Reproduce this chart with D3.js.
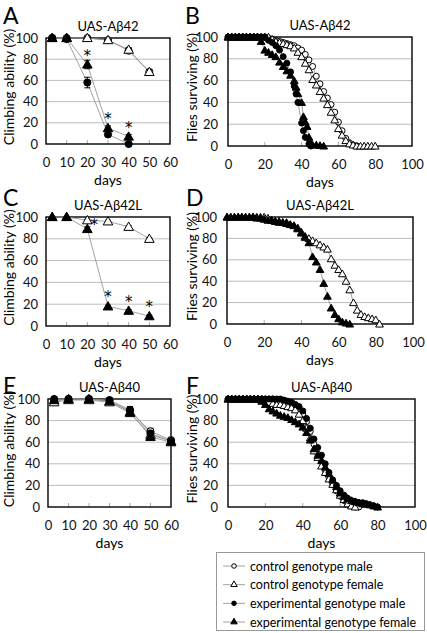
<!DOCTYPE html>
<html><head><meta charset="utf-8">
<script src="https://cdn.jsdelivr.net/npm/d3@7"></script>
<style>body{margin:0;background:#fff}svg{display:block;font-family:Lato,"Open Sans",sans-serif}</style>
</head><body><svg id="c" width="427" height="633"></svg>
<script>
// ---------- DATA ----------
const climbDays = [3, 10, 20, 30, 40, 50, 60];
const climbTicks = [0, 10, 20, 30, 40, 50, 60];
const survTicks = [0, 20, 40, 60, 80, 100];
const yTicks = [0, 20, 40, 60, 80, 100];
const legendLabels = ["control genotype male", "control genotype female", "experimental genotype male", "experimental genotype female"];
const titles = ["UAS-A\u03b242", "UAS-A\u03b242", "UAS-A\u03b242L", "UAS-A\u03b242L", "UAS-A\u03b240", "UAS-A\u03b240"];

// Panel A (climbing)
const A_ctrlMale = [100, 100, 100, 98, 88, 68];
const A_ctrlFemale = [100, 100, 100, 98, 89, 68];
const A_expMale = [100, 99, 58, 9, 0];
const A_expFemale = [100, 100, 75, 15, 7];
const A_ctrlErr = [0, 1, 1, 1, 2, 2];
const A_expMaleErr = [0, 1, 5, 1, 0];
const A_expFemaleErr = [0, 0, 4, 2, 2];
const A_stars = [20, 30, 40];

// Panel C (climbing)
const C_ctrlFemale = [100, 100, 97, 96, 91, 80];
const C_expFemale = [100, 100, 89, 18, 14, 9];
const C_ctrlErr = [0, 0, 1, 1, 1, 1];
const C_expErr = [0, 0, 2, 1, 1, 1];
const C_stars = [20, 30, 40, 50];

// Panel E (climbing)
const E_ctrlMale = [98, 100, 100, 98, 89, 70, 62];
const E_ctrlFemale = [97, 99, 99, 97, 87, 67, 61];
const E_expMale = [100, 100, 100, 99, 90, 68, 61];
const E_expFemale = [99, 100, 100, 98, 88, 65, 60];
const E_err = [2, 1, 1, 2, 3, 3, 2];

// Panel B (survival) [day, % surviving]
const B_ctrlMale = [[0,100],[2,100],[4,100],[6,100],[8,100],[10,100],[12,100],[14,100],[16,100],[18,100],[20,100],[22,99],[24,98],[26,97],[28,96],[30,95],[32,94],[34,93],[36,92],[38,90],[40,88],[42,84],[44,79],[46,73],[48,64],[50,57],[52,50],[54,44],[56,38],[58,31],[60,22],[62,14],[64,7],[66,3],[68,1],[70,0]];
const B_ctrlFemale = [[0,100],[2,100],[4,100],[6,100],[8,100],[10,100],[12,100],[14,100],[16,100],[18,100],[20,100],[22,100],[24,98],[26,96],[28,95],[30,94],[32,93],[34,92],[36,90],[38,86],[40,82],[42,76],[44,70],[46,61],[48,56],[50,50],[52,44],[54,38],[56,31],[58,24],[60,16],[62,10],[64,5],[66,2],[68,1],[70,0],[72,0],[74,0],[76,0],[78,0],[80,0]];
const B_expMale = [[0,100],[2,100],[4,100],[6,100],[8,100],[10,100],[12,100],[14,100],[16,100],[18,100],[20,100],[22,97],[24,95],[26,92],[28,88],[30,82],[32,76],[34,68],[36,55],[37,48],[38,40],[40,21],[41,14],[42,8],[44,2],[45,0]];
const B_expFemale = [[0,100],[2,100],[4,100],[6,100],[8,100],[10,100],[12,100],[14,100],[16,100],[18,96],[20,88],[22,86],[24,84],[26,82],[28,77],[30,73],[32,69],[34,65],[36,60],[37,54],[38,48],[40,40],[41,27],[42,22],[43,18],[44,8],[45,2],[46,1],[48,1],[50,0.5],[52,0]];

// Panel D (survival)
const D_ctrlFemale = [[0,100],[2,100],[4,100],[6,100],[8,100],[10,100],[12,100],[14,100],[16,100],[18,100],[20,100],[22,99],[24,97],[26,96],[28,95],[30,95],[32,94],[34,93],[36,92],[38,90],[40,86],[42,82],[44,80],[46,78],[48,76],[50,74],[52,72],[54,70],[56,61],[58,55],[60,51],[62,47],[64,40],[66,32],[68,20],[70,13],[72,9],[74,7],[76,6],[78,5],[80,4],[82,0]];
const D_expFemale = [[0,100],[2,100],[4,100],[6,100],[8,100],[10,100],[12,100],[14,100],[16,99],[18,99],[20,98],[22,97],[24,97],[26,96],[28,96],[30,95],[32,95],[34,93],[36,92],[38,89],[40,85],[42,81],[44,76],[46,63],[48,58],[50,51],[52,38],[54,26],[56,15],[58,9],[60,5],[62,2],[64,1],[66,0]];

// Panel F (survival)
const F_ctrlMale = [[0,100],[2,100],[4,100],[6,100],[8,100],[10,100],[12,100],[14,100],[16,100],[18,100],[20,100],[22,100],[24,100],[26,99],[28,98],[30,97],[32,96],[34,95],[36,94],[38,91],[40,86],[42,79],[44,70],[46,58],[48,49],[50,42],[52,34],[54,27],[56,21],[58,15],[60,10],[62,6],[64,3],[66,1],[68,0],[70,0]];
const F_ctrlFemale = [[0,100],[2,100],[4,100],[6,100],[8,100],[10,100],[12,100],[14,100],[16,100],[18,100],[20,98],[22,97],[24,96],[26,95],[28,95],[30,94],[32,93],[34,92],[36,90],[38,86],[40,80],[42,73],[44,64],[46,52],[48,46],[50,38],[52,32],[54,26],[56,21],[58,16],[60,11],[62,7],[64,3],[66,1],[68,0]];
const F_expMale = [[0,100],[2,100],[4,100],[6,100],[8,100],[10,100],[12,100],[14,100],[16,100],[18,100],[20,100],[22,100],[24,100],[26,100],[28,100],[30,99],[32,98],[34,97],[36,95],[38,93],[40,89],[42,82],[44,73],[46,63],[48,55],[50,48],[52,40],[54,32],[56,25],[58,20],[60,15],[62,11],[64,8],[66,6],[68,5],[70,4],[72,4],[74,3],[76,2],[78,1],[80,0]];
const F_expFemale = [[0,100],[2,100],[4,100],[6,100],[8,100],[10,100],[12,100],[14,100],[16,100],[18,98],[20,95],[22,91],[24,89],[26,87],[28,85],[30,84],[32,83],[34,81],[36,79],[38,77],[40,74],[42,69],[44,62],[46,54],[48,48],[50,43],[52,37],[54,31],[56,25],[58,19],[60,13],[62,10],[64,8],[66,6],[68,5],[70,4],[72,3],[74,3],[76,2],[78,1],[80,0]];

// ---------- DRAWING ----------
const svg = d3.select("#c");
const FONT = 'Lato,"Open Sans",sans-serif';
const lineColor = "#8a8a8a";

function marker(g, type, x, y, big) {
  const isTri = type.indexOf("Female") >= 0;
  const filled = type.indexOf("exp") === 0;
  const size = isTri ? (big ? 40 : 26) : (big ? 40 : 28);
  g.append("path")
    .attr("d", d3.symbol().type(isTri ? d3.symbolTriangle : d3.symbolCircle).size(size)())
    .attr("transform", `translate(${x},${y + (isTri ? 0.8 : 0)})`)
    .attr("fill", filled ? "#000" : "#fff")
    .attr("stroke", "#000").attr("stroke-width", 1);
}

function panel(cfg) {
  const g = svg.append("g");
  const x = d3.scaleLinear().domain(cfg.xDomain).range([cfg.L, cfg.R]);
  const y = d3.scaleLinear().domain([0, 100]).range([cfg.B, cfg.T]);
  g.selectAll(".grid").data(yTicks.filter(v => v > 0 && v < 100)).join("line")
    .attr("x1", cfg.L).attr("x2", cfg.R).attr("y1", d => y(d)).attr("y2", d => y(d))
    .attr("stroke", "#bdbdbd").attr("stroke-width", 1);
  g.selectAll(".xt").data(cfg.xTicks.slice(1, -1)).join("line")
    .attr("x1", d => x(d)).attr("x2", d => x(d)).attr("y1", cfg.B).attr("y2", cfg.B - 4)
    .attr("stroke", "#aaa").attr("stroke-width", 1);
  const xa = g.append("g").attr("transform", `translate(0,${cfg.B})`)
    .call(d3.axisBottom(x).tickValues(cfg.xTicks).tickSize(0).tickPadding(14));
  xa.select(".domain").remove();
  xa.selectAll("text").attr("font-size", 13).attr("font-family", FONT).attr("fill", "#111");
  const ya = g.append("g").attr("transform", `translate(${cfg.L},0)`)
    .call(d3.axisLeft(y).tickValues(yTicks).tickSize(0).tickPadding(cfg.yPad));
  ya.select(".domain").remove();
  ya.selectAll("text").attr("font-size", 13).attr("font-family", FONT).attr("fill", "#111");
  g.append("rect").attr("x", cfg.L).attr("y", cfg.T).attr("width", cfg.R - cfg.L).attr("height", cfg.B - cfg.T)
    .attr("fill", "none").attr("stroke", "#000").attr("stroke-width", 1.4);
  g.append("text").attr("x", (cfg.L + cfg.R) / 2).attr("y", cfg.B + 41).attr("text-anchor", "middle")
    .attr("font-size", 14).attr("font-family", FONT).text("days");
  g.append("text").attr("x", (cfg.L + cfg.R) / 2).attr("y", cfg.T - 7).attr("text-anchor", "middle")
    .attr("font-size", 13).attr("font-family", FONT).text(cfg.title);
  g.append("text").attr("transform", `translate(${cfg.ylx},${(cfg.T + cfg.B) / 2 - 4}) rotate(-90)`)
    .attr("text-anchor", "middle").attr("font-size", 14).attr("font-family", FONT).text(cfg.ylabel);
  g.append("text").attr("x", cfg.lx).attr("y", cfg.ly).attr("font-size", 23).attr("font-family", FONT).text(cfg.letter);

  const line = d3.line().x(d => x(d[0])).y(d => y(d[1]));
  cfg.series.forEach(s => {
    g.append("path").attr("d", line(s.data)).attr("fill", "none").attr("stroke", lineColor).attr("stroke-width", 0.8);
  });
  cfg.series.forEach(s => {
    if (s.err) {
      s.data.forEach((d, i) => {
        const e = s.err[i];
        if (e > 0) {
          const cx = x(d[0]);
          g.append("line").attr("x1", cx).attr("x2", cx).attr("y1", y(d[1] - e)).attr("y2", y(d[1] + e)).attr("stroke", "#000");
          [d[1] - e, d[1] + e].forEach(v => g.append("line").attr("x1", cx - 3).attr("x2", cx + 3).attr("y1", y(v)).attr("y2", y(v)).attr("stroke", "#000"));
        }
      });
    }
    s.data.forEach(d => marker(g, s.type, x(d[0]), y(d[1]), cfg.big));
  });
  if (cfg.stars) {
    const s = cfg.series.find(t => t.type === "expFemale");
    cfg.stars.forEach(day => {
      const p = s.data.find(d => d[0] === day);
      const dx = cfg.starDx ? cfg.starDx(day) : 0;
      const dy = cfg.starDy ? cfg.starDy(day) : -4;
      g.append("text").attr("x", x(day) + dx).attr("y", y(p[1]) + dy).attr("text-anchor", "middle")
        .attr("font-size", 15).attr("font-family", '"DejaVu Sans",sans-serif').attr("fill", "#000").text("*");
    });
  }
}

const zipDays = arr => arr.map((v, i) => [climbDays[i], v]);

panel({letter: "A", lx: 3, ly: 24, title: titles[0], L: 46, R: 170, T: 38, B: 144, xDomain: [0, 60], xTicks: climbTicks,
  ylabel: "Climbing ability (%)", ylx: 14, yPad: 8, big: true, stars: A_stars,
  series: [
    {type: "ctrlMale", data: zipDays(A_ctrlMale), err: A_ctrlErr},
    {type: "ctrlFemale", data: zipDays(A_ctrlFemale), err: A_ctrlErr},
    {type: "expMale", data: zipDays(A_expMale), err: A_expMaleErr},
    {type: "expFemale", data: zipDays(A_expFemale), err: A_expFemaleErr}]});

panel({letter: "B", lx: 185, ly: 24, title: titles[1], L: 228, R: 412, T: 37, B: 146, xDomain: [0, 100], xTicks: survTicks,
  ylabel: "Flies surviving (%)", ylx: 197, yPad: 10,
  series: [
    {type: "ctrlMale", data: B_ctrlMale}, {type: "ctrlFemale", data: B_ctrlFemale},
    {type: "expMale", data: B_expMale}, {type: "expFemale", data: B_expFemale}]});

panel({letter: "C", lx: 3, ly: 206, title: titles[2], L: 46, R: 170, T: 217, B: 326, xDomain: [0, 60], xTicks: climbTicks,
  ylabel: "Climbing ability (%)", ylx: 14, yPad: 8, big: true, stars: C_stars,
  starDx: d => d === 20 ? 7 : 0, starDy: d => d === 20 ? 1 : -4,
  series: [
    {type: "ctrlFemale", data: zipDays(C_ctrlFemale), err: C_ctrlErr},
    {type: "expFemale", data: zipDays(C_expFemale), err: C_expErr}]});

panel({letter: "D", lx: 186, ly: 206, title: titles[3], L: 227, R: 413, T: 217, B: 324, xDomain: [0, 100], xTicks: survTicks,
  ylabel: "Flies surviving (%)", ylx: 197, yPad: 10,
  series: [{type: "ctrlFemale", data: D_ctrlFemale}, {type: "expFemale", data: D_expFemale}]});

panel({letter: "E", lx: 3, ly: 394, title: titles[4], L: 48, R: 171, T: 399, B: 507, xDomain: [0, 60], xTicks: climbTicks,
  ylabel: "Climbing ability (%)", ylx: 14, yPad: 8, big: true,
  series: [
    {type: "ctrlMale", data: zipDays(E_ctrlMale), err: E_err},
    {type: "ctrlFemale", data: zipDays(E_ctrlFemale), err: E_err},
    {type: "expMale", data: zipDays(E_expMale), err: E_err},
    {type: "expFemale", data: zipDays(E_expFemale), err: E_err}]});

panel({letter: "F", lx: 186, ly: 394, title: titles[5], L: 228, R: 415, T: 399, B: 507, xDomain: [0, 100], xTicks: survTicks,
  ylabel: "Flies surviving (%)", ylx: 197, yPad: 10,
  series: [
    {type: "ctrlMale", data: F_ctrlMale}, {type: "ctrlFemale", data: F_ctrlFemale},
    {type: "expMale", data: F_expMale}, {type: "expFemale", data: F_expFemale}]});

// legend
const lg = svg.append("g");
lg.append("rect").attr("x", 216.5).attr("y", 552.5).attr("width", 208).attr("height", 78)
  .attr("fill", "#fff").attr("stroke", "#999").attr("stroke-width", 1);
const types = ["ctrlMale", "ctrlFemale", "expMale", "expFemale"];
const ly = d3.scalePoint().domain(types).range([566, 622]);
types.forEach((t, i) => {
  const yy = ly(t);
  lg.append("line").attr("x1", 223).attr("x2", 245).attr("y1", yy).attr("y2", yy).attr("stroke", lineColor).attr("stroke-width", 0.8);
  const isTri = t.indexOf("Female") >= 0;
  lg.append("path").attr("d", d3.symbol().type(isTri ? d3.symbolTriangle : d3.symbolCircle).size(isTri ? 18 : 16)())
    .attr("transform", `translate(234,${yy})`).attr("fill", t.indexOf("exp") === 0 ? "#000" : "#fff").attr("stroke", "#000");
  lg.append("text").attr("x", 250).attr("y", yy + 4.5).attr("font-size", 12.5).attr("font-family", FONT).text(legendLabels[i]);
});
</script></body></html>
